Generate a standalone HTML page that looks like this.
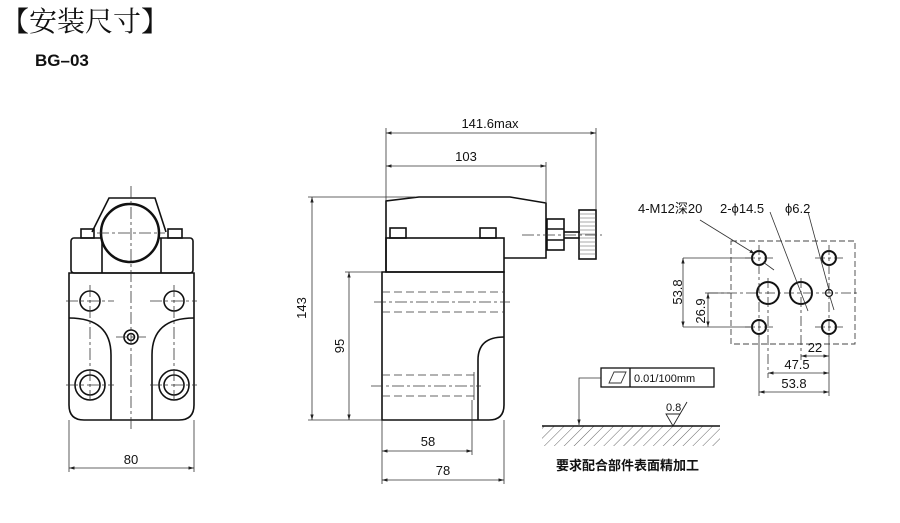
<!DOCTYPE html>
<html><head><meta charset="utf-8"><style>
html,body{margin:0;padding:0;background:#fff;width:900px;height:523px;overflow:hidden}
svg{position:absolute;left:0;top:0}
text{font-family:"Liberation Sans","Noto Sans CJK SC",sans-serif;fill:#111}
</style></head><body>
<svg width="900" height="523" viewBox="0 0 900 523">
<defs>
<pattern id="h" width="7" height="7" patternUnits="userSpaceOnUse" patternTransform="rotate(45)"><line x1="0" y1="0" x2="0" y2="7" stroke="#555" stroke-width="0.9"/></pattern>
<marker id="a" viewBox="0 0 10 10" refX="10" refY="5" markerWidth="7" markerHeight="7" orient="auto-start-reverse"><path d="M0,2L10,5L0,8z" fill="#222"/></marker>
</defs>
<text x="1" y="31" font-size="28" style="font-family:'Noto Serif CJK SC','Liberation Serif',serif">【安装尺寸】</text>
<text x="35" y="66" font-size="17" font-weight="bold">BG–03</text>

<g fill="none" stroke="#111" stroke-width="1.6">
<path d="M92,232 L109,198 L155,198 L166,232"/>
<rect x="71" y="238" width="122" height="35" rx="3"/>
<line x1="102" y1="238" x2="102" y2="273"/><line x1="161" y1="238" x2="161" y2="273"/>
<rect x="81" y="229" width="13" height="9"/><rect x="168" y="229" width="14" height="9"/>
<circle cx="130" cy="233" r="29" fill="#fff" stroke-width="2.5"/>
<path d="M69,273 H194 V405 Q194,420 179,420 H84 Q69,420 69,405 Z"/>
<path d="M69,318 Q111,318 111,355 V420"/><path d="M194,318 Q152,318 152,355 V420"/>
<circle cx="90" cy="301" r="10"/><circle cx="174" cy="301" r="10"/>
<circle cx="131" cy="337" r="7"/><circle cx="131" cy="337" r="3.5"/>
<circle cx="90" cy="385" r="15"/><circle cx="90" cy="385" r="10"/>
<circle cx="174" cy="385" r="15"/><circle cx="174" cy="385" r="10"/>
</g>
<g stroke="#333" stroke-width="0.8" stroke-dasharray="12,3,3,3" fill="none">
<line x1="131" y1="186" x2="131" y2="432"/><line x1="97" y1="233" x2="165" y2="233"/>
<line x1="66" y1="301" x2="114" y2="301"/><line x1="150" y1="301" x2="197" y2="301"/>
<line x1="90" y1="285" x2="90" y2="400"/><line x1="174" y1="285" x2="174" y2="400"/>
<line x1="66" y1="385" x2="114" y2="385"/><line x1="150" y1="385" x2="197" y2="385"/>
<line x1="116" y1="337" x2="146" y2="337"/>
</g>
<g stroke="#333" stroke-width="0.8" fill="none">
<line x1="69" y1="420" x2="69" y2="472"/><line x1="194" y1="420" x2="194" y2="472"/>
<line x1="69" y1="468" x2="194" y2="468" marker-start="url(#a)" marker-end="url(#a)"/>
</g>
<text x="131" y="464" font-size="13" text-anchor="middle">80</text>

<g fill="none" stroke="#111" stroke-width="1.6">
<path d="M386,272 V201 L419,197 H510 L546,203 V258 H504"/>
<rect x="386" y="238" width="118" height="34"/>
<rect x="390" y="228" width="16" height="10"/><rect x="480" y="228" width="16" height="10"/>
<rect x="547" y="219" width="17" height="31"/>
<line x1="547" y1="229" x2="564" y2="229"/><line x1="547" y1="240" x2="564" y2="240"/>
<line x1="564" y1="232" x2="580" y2="232"/><line x1="564" y1="238" x2="580" y2="238"/>
<rect x="579" y="210" width="17" height="49"/>
<path d="M382,272 H504 V405 Q504,420 489,420 H382 Z"/>
<path d="M504,337 Q478,337 478,360 V420"/>
</g>
<g stroke="#555" stroke-width="0.6"><path d="M579,214h17M579,218h17M579,222h17M579,226h17M579,230h17M579,234h17M579,238h17M579,242h17M579,246h17M579,250h17M579,254h17"/></g>
<g stroke="#333" stroke-width="0.8" fill="none">
<line x1="522" y1="235" x2="602" y2="235" stroke-dasharray="12,3,3,3"/>
<line x1="382" y1="292" x2="504" y2="292" stroke-dasharray="8,4"/>
<line x1="382" y1="312" x2="504" y2="312" stroke-dasharray="8,4"/>
<line x1="374" y1="302" x2="510" y2="302" stroke-dasharray="12,3,3,3"/>
<line x1="382" y1="375" x2="474" y2="375" stroke-dasharray="8,4"/>
<line x1="382" y1="396" x2="474" y2="396" stroke-dasharray="8,4"/>
<line x1="371" y1="386" x2="481" y2="386" stroke-dasharray="12,3,3,3"/>
<line x1="474" y1="372" x2="474" y2="400"/>
<line x1="386" y1="128" x2="386" y2="200"/><line x1="546" y1="162" x2="546" y2="202"/><line x1="596" y1="128" x2="596" y2="210"/>
<line x1="386" y1="133" x2="596" y2="133" marker-start="url(#a)" marker-end="url(#a)"/>
<line x1="386" y1="166" x2="546" y2="166" marker-start="url(#a)" marker-end="url(#a)"/>
<line x1="308" y1="197" x2="415" y2="197"/><line x1="308" y1="420" x2="382" y2="420"/>
<line x1="312" y1="197" x2="312" y2="420" marker-start="url(#a)" marker-end="url(#a)"/>
<line x1="345" y1="272" x2="382" y2="272"/>
<line x1="349" y1="272" x2="349" y2="420" marker-start="url(#a)" marker-end="url(#a)"/>
<line x1="382" y1="420" x2="382" y2="484"/><line x1="504" y1="420" x2="504" y2="484"/><line x1="472" y1="400" x2="472" y2="455"/>
<line x1="382" y1="451" x2="472" y2="451" marker-start="url(#a)" marker-end="url(#a)"/>
<line x1="382" y1="480" x2="504" y2="480" marker-start="url(#a)" marker-end="url(#a)"/>
</g>
<text x="490" y="128" font-size="13" text-anchor="middle">141.6max</text>
<text x="466" y="161" font-size="13" text-anchor="middle">103</text>
<text x="428" y="446" font-size="13" text-anchor="middle">58</text>
<text x="443" y="475" font-size="13" text-anchor="middle">78</text>
<text transform="translate(306,308) rotate(-90)" font-size="13" text-anchor="middle">143</text>
<text transform="translate(344,346) rotate(-90)" font-size="13" text-anchor="middle">95</text>

<rect x="731" y="241" width="124" height="103" fill="none" stroke="#444" stroke-width="0.9" stroke-dasharray="6,3"/>
<g fill="none" stroke="#111" stroke-width="2">
<circle cx="759" cy="258" r="7"/><circle cx="829" cy="258" r="7"/><circle cx="759" cy="327" r="7"/><circle cx="829" cy="327" r="7"/>
<circle cx="768" cy="293" r="11"/><circle cx="801" cy="293" r="11"/><circle cx="829" cy="293" r="3.5" stroke-width="1.3"/>
</g>
<g stroke="#333" stroke-width="0.8" fill="none">
<g stroke-dasharray="10,3,3,3"><line x1="708" y1="293" x2="860" y2="293"/><line x1="759" y1="245" x2="759" y2="340"/><line x1="829" y1="245" x2="829" y2="340"/><line x1="745" y1="258" x2="773" y2="258"/><line x1="815" y1="258" x2="843" y2="258"/><line x1="745" y1="327" x2="773" y2="327"/><line x1="815" y1="327" x2="843" y2="327"/><line x1="768" y1="278" x2="768" y2="378"/><line x1="801" y1="278" x2="801" y2="360"/></g>
<line x1="683" y1="258" x2="752" y2="258"/><line x1="683" y1="327" x2="752" y2="327"/><line x1="705" y1="293" x2="730" y2="293"/>
<line x1="683" y1="258" x2="683" y2="327" marker-start="url(#a)" marker-end="url(#a)"/>
<line x1="708" y1="293" x2="708" y2="327" marker-start="url(#a)" marker-end="url(#a)"/>
<line x1="759" y1="334" x2="759" y2="396"/><line x1="829" y1="334" x2="829" y2="396"/>
<line x1="801" y1="356" x2="829" y2="356" marker-start="url(#a)" marker-end="url(#a)"/>
<line x1="768" y1="373" x2="829" y2="373" marker-start="url(#a)" marker-end="url(#a)"/>
<line x1="759" y1="392" x2="829" y2="392" marker-start="url(#a)" marker-end="url(#a)"/>
<line x1="700" y1="220" x2="755" y2="254" marker-end="url(#a)"/><line x1="763" y1="262" x2="774" y2="270"/>
<line x1="770" y1="212" x2="808" y2="311"/>
<line x1="808" y1="212" x2="829" y2="290"/><line x1="830" y1="297" x2="834" y2="310"/>
</g>
<text x="638" y="213" font-size="13">4-M12深20</text>
<text x="720" y="213" font-size="13">2-ϕ14.5</text>
<text x="785" y="213" font-size="13">ϕ6.2</text>
<text transform="translate(682,292) rotate(-90)" font-size="13" text-anchor="middle">53.8</text>
<text transform="translate(705,311) rotate(-90)" font-size="13" text-anchor="middle">26.9</text>
<text x="815" y="352" font-size="13" text-anchor="middle">22</text>
<text x="797" y="369" font-size="13" text-anchor="middle">47.5</text>
<text x="794" y="388" font-size="13" text-anchor="middle">53.8</text>

<rect x="542" y="426" width="178" height="20" fill="url(#h)"/>
<line x1="542" y1="426" x2="720" y2="426" stroke="#111" stroke-width="1.5"/>
<rect x="601" y="368" width="113" height="19" fill="none" stroke="#111" stroke-width="1.3"/>
<line x1="630" y1="368" x2="630" y2="387" stroke="#111" stroke-width="1.3"/>
<path d="M609,383 L614,372 L626,372 L621,383 Z" fill="none" stroke="#333" stroke-width="0.9"/>
<text x="634" y="382" font-size="11">0.01/100mm</text>
<polyline points="601,378 579,378 579,425" fill="none" stroke="#333" stroke-width="0.8" marker-end="url(#a)"/>
<path d="M666,414 L680,414 L673,426 Z M680,414 L687,402" fill="none" stroke="#222" stroke-width="0.9"/>
<text x="666" y="411" font-size="11">0.8</text>
<text x="556" y="470" font-size="13" font-weight="bold">要求配合部件表面精加工</text>
</svg>
</body></html>
